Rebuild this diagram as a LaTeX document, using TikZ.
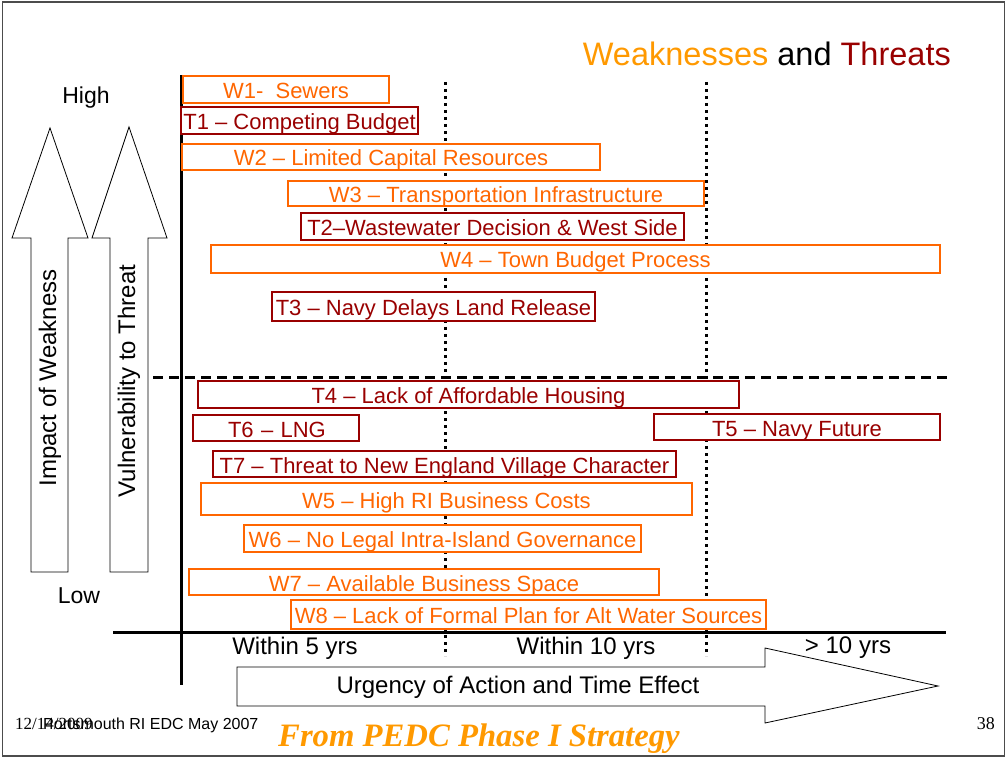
\documentclass[tikz,border=0pt]{standalone}
\usepackage{fontspec}
\setmainfont{Liberation Sans}
\newfontfamily\serifft{Liberation Serif}
\definecolor{worange}{RGB}{255,102,0}
\definecolor{torange}{RGB}{255,153,0}
\definecolor{tred}{RGB}{153,0,0}
\tikzset{
  box/.style={draw, line width=2.6pt, fill=white, inner sep=0pt, text height=18pt, text depth=0pt, font=\fontsize{22}{26}\selectfont},
  wbox/.style={box, draw=worange, text=worange},
  tbox/.style={box, draw=tred, text=tred},
  blockarrow/.style={draw=black, line width=0.8pt, fill=white},
  axislbl/.style={font=\fontsize{24}{28}\selectfont, inner sep=0pt},
  dotline/.style={line width=3pt, dash pattern=on 3pt off 4pt},
}
\begin{document}
\begin{tikzpicture}[x=1pt,y=-1pt]
\useasboundingbox (0,0) rectangle (1007,759);
\fill[white] (0,0) rectangle (1007,759);
\draw[line width=1.5pt, black!70] (2.5,2) rectangle (1004.5,756);
% title
\node[anchor=base east, inner sep=0pt, font=\fontsize{32.5}{36}\selectfont] (title) at (951,66)
  {\textcolor{torange}{Weaknesses} and \textcolor{tred}{Threats}};
% vertical block arrows
\draw[blockarrow] (31,572) -- (31,238) -- (12,238) -- (50,128) -- (88,238) -- (68,238) -- (68,572) -- cycle;
\draw[blockarrow] (110,572) -- (110,238) -- (92,238) -- (129,127) -- (167,238) -- (148,238) -- (148,572) -- cycle;
\node[axislbl, rotate=90] (impact) at (50,378) {Impact of Weakness};
\node[axislbl, rotate=90] (vuln) at (129,381) {Vulnerability to Threat};
\node[inner sep=0pt, font=\fontsize{23}{26}\selectfont] (high) at (86,98) {High};
\node[inner sep=0pt, font=\fontsize{23}{26}\selectfont] (low) at (79,596) {Low};
% bottom block arrow
\draw[blockarrow] (237,667) -- (765,667) -- (765,648) -- (938,686) -- (765,723) -- (765,706) -- (237,706) -- cycle;
\node[axislbl] (urg) at (518,687) {Urgency of Action and Time Effect};
% dotted verticals
\coordinate (d1t) at (445,82); \coordinate (d1b) at (445,656);
\coordinate (d2t) at (706,82); \coordinate (d2b) at (706,656);
\draw[dotline] (d1t) -- (d1b);
\draw[dotline] (d2t) -- (d2b);
% axes
\coordinate (vt) at (181,75); \coordinate (vb) at (181,685);
\coordinate (hl) at (113,632); \coordinate (hr) at (946,632);
\draw[line width=3pt] (vt) -- (vb);
\draw[line width=3pt] (hl) -- (hr);
\coordinate (ml) at (153,377); \coordinate (mr) at (949,377);
\draw[line width=3pt, dash pattern=on 10pt off 6pt] (ml) -- (mr);
% time labels
\node[axislbl] (w5y) at (295,648) {Within 5 yrs};
\node[axislbl] (w10y) at (586,648) {Within 10 yrs};
\node[axislbl] (g10y) at (848,648) {> 10 yrs};
% boxes
\node[wbox, minimum width=206pt, minimum height=27pt] (W1) at (286,89.5) {W1-\ \ Sewers};
\node[tbox, minimum width=237pt, minimum height=27pt] (T1) at (299.5,120.5) {T1 – Competing Budget};
\node[wbox, minimum width=418pt, minimum height=26pt] (W2) at (391,157) {W2 – Limited Capital Resources};
\node[wbox, minimum width=416pt, minimum height=25pt] (W3) at (496,193.5) {W3 – Transportation Infrastructure};
\node[tbox, minimum width=383pt, minimum height=27pt] (T2) at (492.5,226.5) {T2–Wastewater Decision \& West Side};
\node[wbox, minimum width=729pt, minimum height=28pt] (W4) at (575.5,259) {W4 – Town Budget Process};
\node[tbox, minimum width=323pt, minimum height=29pt] (T3) at (433.5,306.5) {T3 – Navy Delays Land Release};
\node[tbox, minimum width=541pt, minimum height=27pt] (T4) at (468.5,394.5) {T4 – Lack of Affordable Housing};
\node[tbox, minimum width=166pt, minimum height=26pt, text width=166pt, align=left] (T6) at (276,428) {\hspace*{35pt}T6 – LNG};
\node[tbox, minimum width=286pt, minimum height=26pt] (T5) at (797,427) {T5 – Navy Future};
\node[tbox, minimum width=463pt, minimum height=26pt] (T7) at (444.5,464) {T7 – Threat to New England Village Character};
\node[wbox, minimum width=491pt, minimum height=32pt] (W5) at (446.5,499) {W5 – High RI Business Costs};
\node[wbox, minimum width=397pt, minimum height=27pt] (W6) at (442.5,538.5) {W6 – No Legal Intra-Island Governance};
\node[wbox, minimum width=470pt, minimum height=26pt] (W7) at (424,582) {W7 – Available Business Space};
\node[wbox, minimum width=475pt, minimum height=29pt] (W8) at (528.5,614.5) {W8 – Lack of Formal Plan for Alt Water Sources};
% footer
\node[anchor=base west, inner sep=0pt, font=\serifft\fontsize{17}{20}\selectfont] (date) at (15,729) {12/14/2009};
\node[anchor=base west, inner sep=0pt, font=\fontsize{16}{19}\selectfont] (org) at (43,729) {Portsmouth RI EDC May 2007};
\node[anchor=base west, inner sep=0pt, text=torange, font=\serifft\bfseries\itshape\fontsize{32.7}{36}\selectfont] (src) at (278,746) {From PEDC Phase I Strategy};
\node[anchor=base east, inner sep=0pt, font=\serifft\fontsize{18}{20}\selectfont] (page) at (995,729) {38};
\end{tikzpicture}
\end{document}
